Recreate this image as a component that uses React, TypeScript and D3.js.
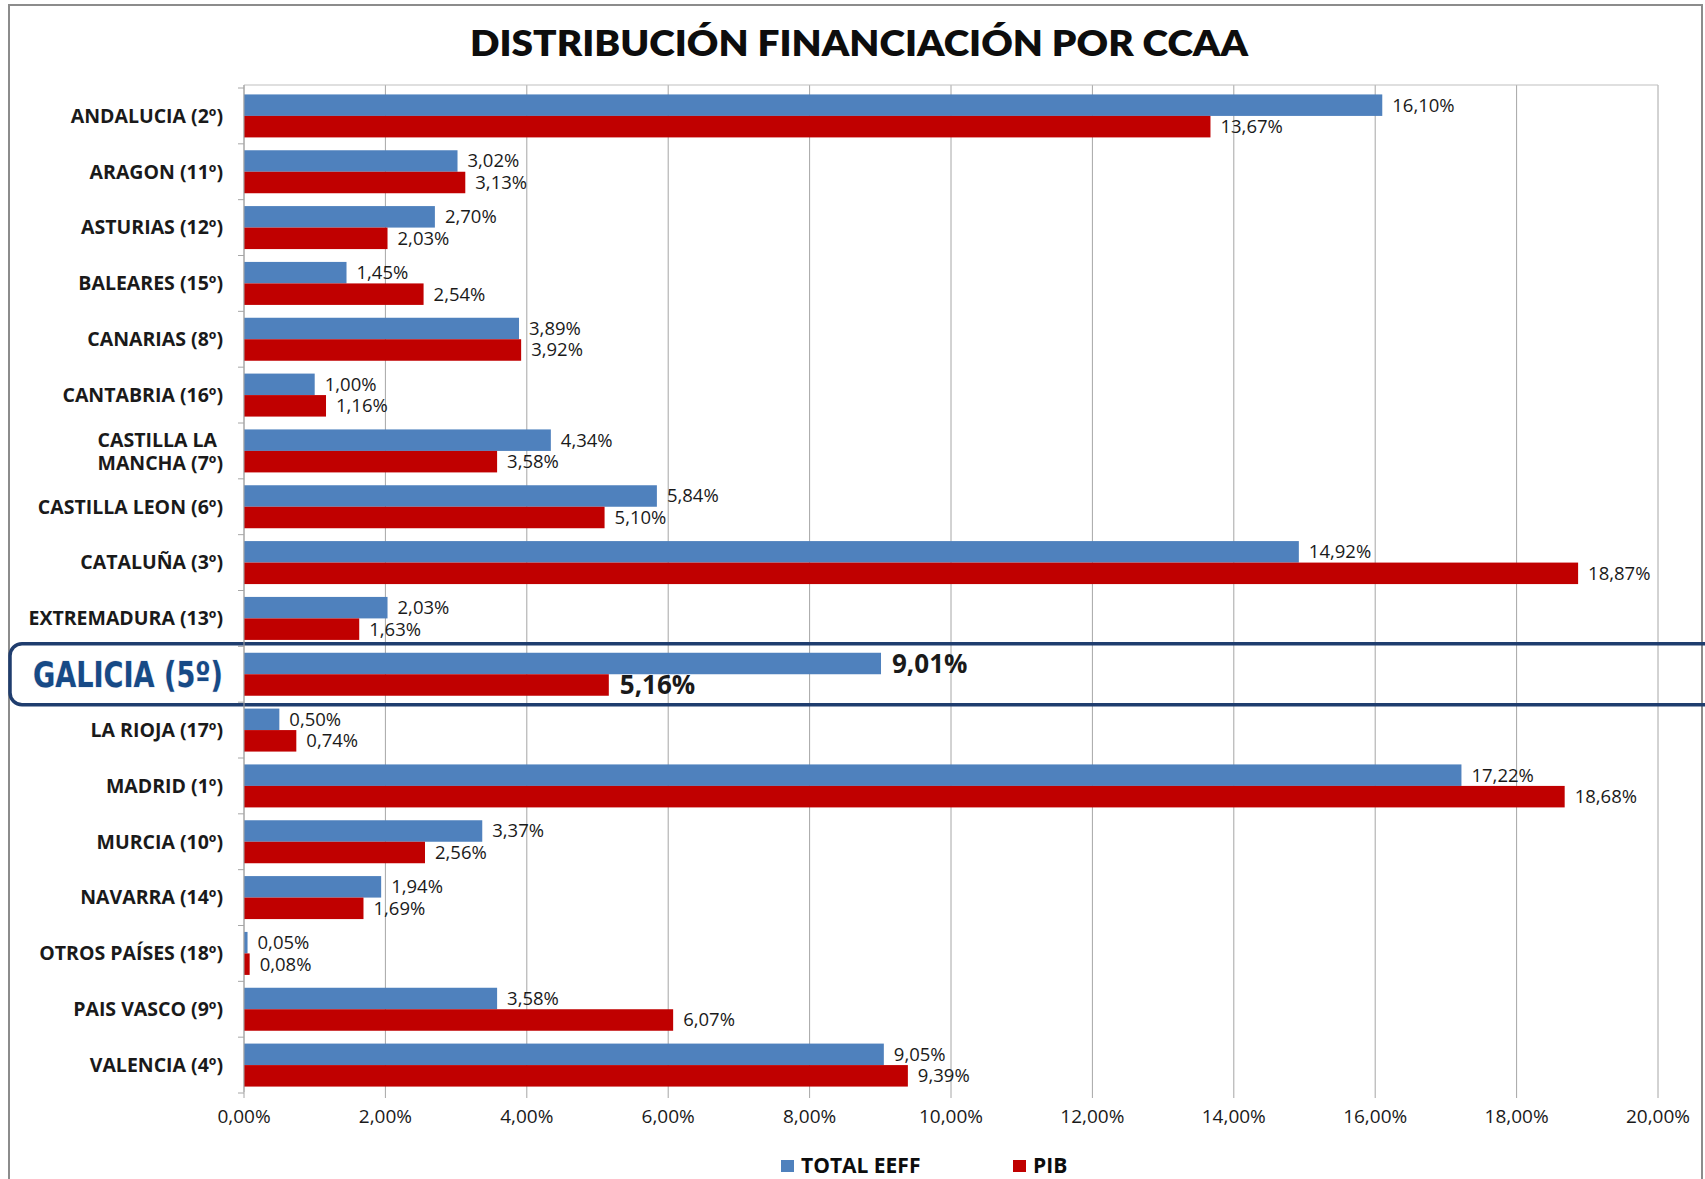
import * as d3 from "d3";
import { useEffect, useRef } from "react";

const categories = [
  "ANDALUCIA (2º)",
  "ARAGON (11º)",
  "ASTURIAS (12º)",
  "BALEARES (15º)",
  "CANARIAS (8º)",
  "CANTABRIA (16º)",
  "CASTILLA LA MANCHA (7º)",
  "CASTILLA LEON (6º)",
  "CATALUÑA (3º)",
  "EXTREMADURA (13º)",
  "GALICIA (5º)",
  "LA RIOJA (17º)",
  "MADRID (1º)",
  "MURCIA (10º)",
  "NAVARRA (14º)",
  "OTROS PAÍSES (18º)",
  "PAIS VASCO (9º)",
  "VALENCIA (4º)",
];

const totalEeff = [
  16.1, 3.02, 2.7, 1.45, 3.89, 1.0, 4.34, 5.84, 14.92, 2.03, 9.01, 0.5, 17.22,
  3.37, 1.94, 0.05, 3.58, 9.05,
];
const pib = [
  13.67, 3.13, 2.03, 2.54, 3.92, 1.16, 3.58, 5.1, 18.87, 1.63, 5.16, 0.74,
  18.68, 2.56, 1.69, 0.08, 6.07, 9.39,
];

const seriesNames = ["TOTAL EEFF", "PIB"];
const seriesColors = ["#4F81BD", "#C00000"];
const xTicks = [0, 2, 4, 6, 8, 10, 12, 14, 16, 18, 20];
const highlight = "GALICIA (5º)";

const W = 1705,
  H = 1179;

export default function App() {
  const ref = useRef<SVGSVGElement>(null);

  useEffect(() => {
    const svg = d3.select(ref.current);
    svg.selectAll("*").remove();

    const left = 244,
      right = 1658,
      top = 85,
      bottom = 1092;
    const labelFont = "'Open Sans', Lato, sans-serif";

    // frame
    svg
      .append("rect")
      .attr("x", 9)
      .attr("y", 5)
      .attr("width", W - 12)
      .attr("height", H + 20)
      .attr("fill", "#fff")
      .attr("stroke", "#8c8c8c")
      .attr("stroke-width", 2);

    svg
      .append("text")
      .attr("x", 859)
      .attr("y", 56)
      .attr("text-anchor", "middle")
      .attr("font-family", "Lato, sans-serif")
      .attr("font-weight", 800)
      .attr("font-size", 35)
      .attr("textLength", 778)
      .attr("lengthAdjust", "spacingAndGlyphs")
      .attr("fill", "#0d0d0d")
      .text("DISTRIBUCIÓN FINANCIACIÓN POR CCAA");

    const x = d3.scaleLinear().domain([0, 20]).range([left, right]);
    const y = d3
      .scaleBand<string>()
      .domain(categories)
      .range([top + 3, bottom + 1])
      .paddingInner(0.23)
      .paddingOuter(0.115);
    const sub = d3
      .scaleBand<number>()
      .domain([0, 1])
      .range([0, y.bandwidth()]);

    // gridlines
    svg
      .append("g")
      .selectAll("line")
      .data(xTicks)
      .join("line")
      .attr("x1", (d) => x(d))
      .attr("x2", (d) => x(d))
      .attr("y1", top)
      .attr("y2", bottom + 6)
      .attr("stroke", "#a6a6a6")
      .attr("stroke-width", 1);

    svg
      .append("line")
      .attr("x1", left)
      .attr("x2", right)
      .attr("y1", top)
      .attr("y2", top)
      .attr("stroke", "#bfbfbf");

    // category axis ticks
    const step = y.step();
    svg
      .append("g")
      .selectAll("line")
      .data(d3.range(categories.length + 1))
      .join("line")
      .attr("x1", left - 6)
      .attr("x2", left)
      .attr("y1", (i) => top + 3 + i * step)
      .attr("y2", (i) => top + 3 + i * step)
      .attr("stroke", "#a6a6a6");

    // galicia highlight box
    const gy = y(highlight)!;
    svg
      .append("rect")
      .attr("x", 10)
      .attr("y", gy - 9)
      .attr("width", W + 20)
      .attr("height", 61)
      .attr("rx", 12)
      .attr("fill", "none")
      .attr("stroke", "#1F3D6E")
      .attr("stroke-width", 3.5);

    const series = [totalEeff, pib];
    series.forEach((vals, s) => {
      const g = svg.append("g");
      g.selectAll("rect")
        .data(categories)
        .join("rect")
        .attr("x", left)
        .attr("y", (c) => y(c)! + sub(s)!)
        .attr("width", (c, i) => x(vals[i]) - left)
        .attr("height", sub.bandwidth())
        .attr("fill", seriesColors[s]);

      g.selectAll("text")
        .data(categories)
        .join("text")
        .attr("x", (c, i) => x(vals[i]) + (c === highlight ? 11 : 10))
        .attr("y", (c) => y(c)! + sub(s)! + sub.bandwidth() / 2)
        .attr("dy", "0.35em")
        .attr("font-family", labelFont)
        .attr("font-size", (c) => (c === highlight ? 26 : 18.5))
        .attr("font-weight", (c) => (c === highlight ? 700 : 400))
        .attr("fill", "#1a1a1a")
        .text((c, i) => vals[i].toFixed(2).replace(".", ",") + "%");
    });

    // axis line
    svg
      .append("line")
      .attr("x1", left)
      .attr("x2", left)
      .attr("y1", top)
      .attr("y2", bottom)
      .attr("stroke", "#a6a6a6");

    // category labels
    const labels = svg
      .append("g")
      .selectAll("text")
      .data(categories)
      .join("text")
      .attr("x", 223)
      .attr("y", (c) => y(c)! + y.bandwidth() / 2)
      .attr("text-anchor", "end")
      .attr("font-family", labelFont)
      .attr("font-weight", 700)
      .attr("font-size", 19.5)
      .attr("fill", "#1a1a1a");

    labels.each(function (c) {
      const t = d3.select(this);
      if (c === highlight) {
        t.attr("font-family", "'Liberation Sans Narrow', 'DejaVu Sans Condensed', sans-serif")
          .attr("font-size", 35)
          .attr("textLength", 190)
          .attr("lengthAdjust", "spacingAndGlyphs")
          .attr("fill", "#174A86")
          .attr("stroke", "#dfe8f3")
          .attr("stroke-width", 1)
          .attr("paint-order", "stroke")
          .attr("dy", "0.36em")
          .text(c);
      } else if (c === "CASTILLA LA MANCHA (7º)") {
        t.append("tspan").attr("x", 217).attr("dy", "-0.22em").text("CASTILLA LA");
        t.append("tspan").attr("x", 223).attr("dy", "1.22em").text("MANCHA (7º)");
      } else {
        t.attr("dy", "0.35em").text(c);
      }
    });

    // x tick labels
    svg
      .append("g")
      .selectAll("text")
      .data(xTicks)
      .join("text")
      .attr("x", (d) => x(d))
      .attr("y", 1123)
      .attr("text-anchor", "middle")
      .attr("font-family", labelFont)
      .attr("font-size", 19)
      .attr("fill", "#1a1a1a")
      .text((d) => d.toFixed(2).replace(".", ",") + "%");

    // legend
    const legendX = [781, 1013];
    seriesNames.forEach((name, i) => {
      svg
        .append("rect")
        .attr("x", legendX[i])
        .attr("y", 1160)
        .attr("width", 13)
        .attr("height", 12)
        .attr("fill", seriesColors[i]);
      svg
        .append("text")
        .attr("x", legendX[i] + 20)
        .attr("y", 1173)
        .attr("font-family", labelFont)
        .attr("font-weight", 700)
        .attr("font-size", 21)
        .attr("fill", "#0d0d0d")
        .text(name);
    });
  }, []);

  return (
    <svg
      ref={ref}
      width={W}
      height={H}
      style={{ position: "absolute", left: 0, top: 0, background: "#fff" }}
    />
  );
}
